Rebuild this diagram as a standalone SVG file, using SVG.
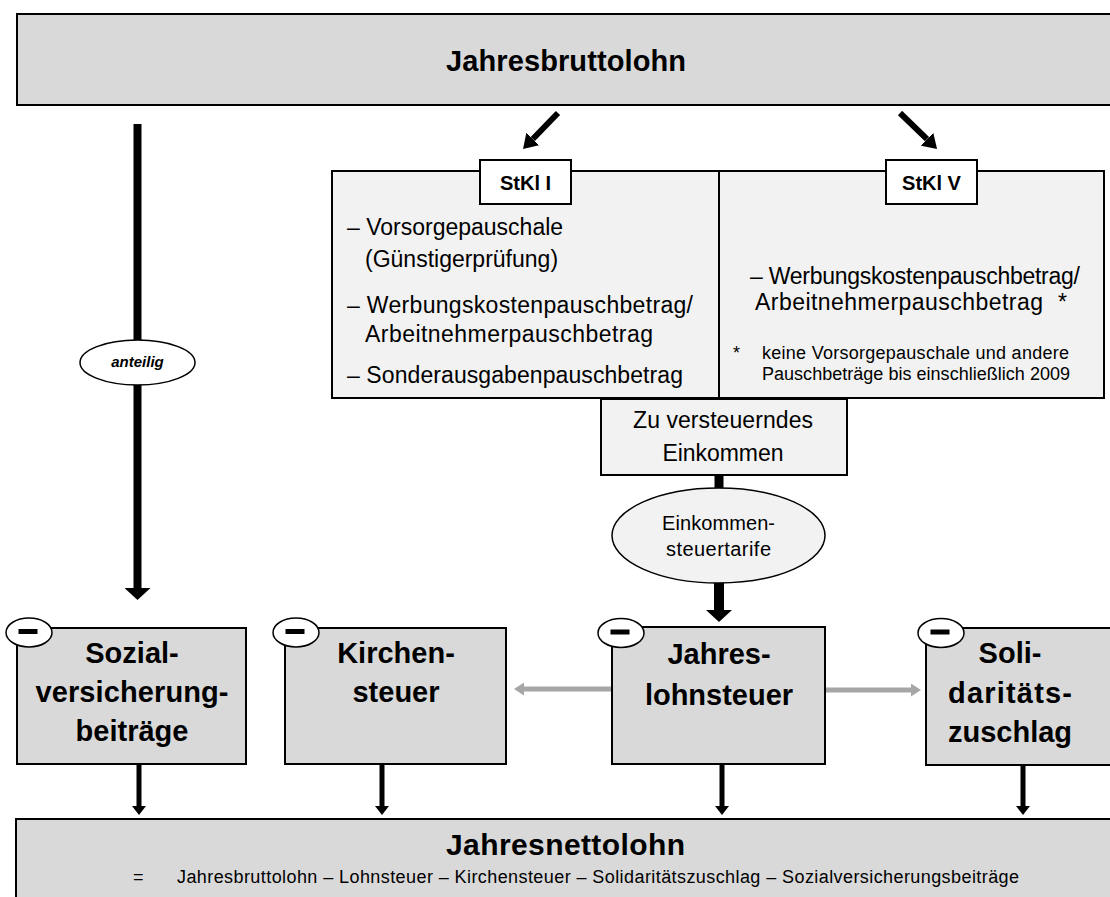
<svg xmlns="http://www.w3.org/2000/svg" width="1110" height="897" viewBox="0 0 1110 897">
<defs>
<style>
.t{font-family:"Liberation Sans",Arial,sans-serif;fill:#000}
.b{font-weight:bold}
.big{fill:#d9d9d9;stroke:#000;stroke-width:2}
.light{fill:#f2f2f2;stroke:#000;stroke-width:2}
.node{fill:#d9d9d9;stroke:#000;stroke-width:2}
.minus{fill:#fff;stroke:#000;stroke-width:1.5}
.blk{stroke:#000;fill:none}
.gry{stroke:#a6a6a6;fill:none;stroke-width:5}
</style>
<marker id="mBig" markerUnits="userSpaceOnUse" markerWidth="12" markerHeight="26" refX="0" refY="13" orient="auto"><path d="M0,0 L12,13 L0,26 z" fill="#000"/></marker>
<marker id="mDiag" markerUnits="userSpaceOnUse" markerWidth="14" markerHeight="18" refX="0" refY="9" orient="auto"><path d="M0,0 L14,9 L0,18 z" fill="#000"/></marker>
<marker id="mSmall" markerUnits="userSpaceOnUse" markerWidth="9" markerHeight="14" refX="0" refY="7" orient="auto"><path d="M0,0 L9,7 L0,14 z" fill="#000"/></marker>
<marker id="mGray" markerUnits="userSpaceOnUse" markerWidth="10" markerHeight="13" refX="0" refY="6.5" orient="auto"><path d="M0,0 L10,6.5 L0,13 z" fill="#a6a6a6"/></marker>
</defs>

<g id="connectors">
<line class="blk" x1="137.5" y1="124" x2="137.5" y2="588" stroke-width="8" marker-end="url(#mBig)"/>
<line class="blk" x1="558" y1="113" x2="532.8" y2="139" stroke-width="6" marker-end="url(#mDiag)"/>
<line class="blk" x1="900" y1="113" x2="927" y2="139.2" stroke-width="6" marker-end="url(#mDiag)"/>
<line class="blk" x1="719" y1="475" x2="719" y2="489" stroke-width="9"/>
<line class="blk" x1="719" y1="582" x2="719" y2="610" stroke-width="10" marker-end="url(#mBig)"/>
<line class="gry" x1="612" y1="689" x2="524" y2="689" marker-end="url(#mGray)"/>
<line class="gry" x1="825" y1="690" x2="911" y2="690" marker-end="url(#mGray)"/>
<line class="blk" x1="139" y1="764" x2="139" y2="806" stroke-width="5" marker-end="url(#mSmall)"/>
<line class="blk" x1="382" y1="764" x2="382" y2="806" stroke-width="5" marker-end="url(#mSmall)"/>
<line class="blk" x1="722" y1="764" x2="722" y2="806" stroke-width="5" marker-end="url(#mSmall)"/>
<line class="blk" x1="1023" y1="764" x2="1023" y2="806" stroke-width="5" marker-end="url(#mSmall)"/>
</g>

<g id="jahresbruttolohn">
<rect class="big" x="17" y="14" width="1100" height="91"/>
<text class="t b" x="566" y="71" font-size="29" text-anchor="middle" textLength="240">Jahresbruttolohn</text>
</g>

<g id="anteilig">
<ellipse cx="137.5" cy="362.5" rx="57.5" ry="22.5" fill="#fff" stroke="#000" stroke-width="1.5"/>
<text class="t b" x="137.5" y="367" font-size="15" font-style="italic" text-anchor="middle">anteilig</text>
</g>

<g id="freibetraege">
<rect class="light" x="332" y="171" width="772" height="227"/>
<line x1="719" y1="171" x2="719" y2="398" stroke="#000" stroke-width="2"/>
<text class="t" x="347" y="235" font-size="23">– Vorsorgepauschale</text>
<text class="t" x="365" y="267" font-size="23">(Günstigerprüfung)</text>
<text class="t" x="347" y="313" font-size="23" textLength="346">– Werbungskostenpauschbetrag/</text>
<text class="t" x="365" y="342" font-size="23" textLength="288">Arbeitnehmerpauschbetrag</text>
<text class="t" x="347" y="383" font-size="23" textLength="336">– Sonderausgabenpauschbetrag</text>
<text class="t" x="750" y="284" font-size="23" textLength="330">– Werbungskostenpauschbetrag/</text>
<text class="t" x="755" y="310" font-size="23" textLength="288">Arbeitnehmerpauschbetrag</text>
<text class="t" x="1058" y="310" font-size="23">*</text>
<text class="t" x="733" y="359" font-size="18">*</text>
<text class="t" x="762" y="359" font-size="18" textLength="307">keine Vorsorgepauschale und andere</text>
<text class="t" x="762" y="380" font-size="18" textLength="308">Pauschbeträge bis einschließlich 2009</text>
</g>

<g id="stkl1">
<rect x="480" y="160" width="91" height="44" fill="#fff" stroke="#000" stroke-width="2"/>
<text class="t b" x="525.5" y="190" font-size="20" text-anchor="middle">StKl I</text>
</g>

<g id="stkl5">
<rect x="886" y="160" width="91" height="44" fill="#fff" stroke="#000" stroke-width="2"/>
<text class="t b" x="931.5" y="190" font-size="20" text-anchor="middle">StKl V</text>
</g>

<g id="zve">
<rect class="light" x="601" y="399" width="246" height="76"/>
<text class="t" x="723" y="428" font-size="23" text-anchor="middle" textLength="180">Zu versteuerndes</text>
<text class="t" x="723" y="461" font-size="23" text-anchor="middle" textLength="121">Einkommen</text>
</g>

<g id="tarif">
<ellipse cx="718.5" cy="535.5" rx="106.5" ry="47.5" fill="#f2f2f2" stroke="#000" stroke-width="1.5"/>
<text class="t" x="718.5" y="530" font-size="20" text-anchor="middle" textLength="113">Einkommen-</text>
<text class="t" x="718.5" y="556" font-size="20" text-anchor="middle" textLength="105">steuertarife</text>
</g>

<g id="sozial">
<rect class="node" x="17" y="628" width="229" height="136"/>
<ellipse class="minus" cx="29" cy="632.5" rx="23" ry="14.5"/>
<rect x="18.5" y="629" width="19" height="5" fill="#000"/>
<text class="t b" x="132" y="663" font-size="29" text-anchor="middle">Sozial-</text>
<text class="t b" x="132" y="702" font-size="29" text-anchor="middle" textLength="193">versicherung-</text>
<text class="t b" x="132" y="741" font-size="29" text-anchor="middle">beiträge</text>
</g>

<g id="kirchen">
<rect class="node" x="285" y="628" width="221" height="136"/>
<ellipse class="minus" cx="296" cy="632.5" rx="23" ry="14.5"/>
<rect x="285.5" y="629" width="19" height="5" fill="#000"/>
<text class="t b" x="396" y="663" font-size="29" text-anchor="middle">Kirchen-</text>
<text class="t b" x="396" y="702" font-size="29" text-anchor="middle">steuer</text>
</g>

<g id="lohnsteuer">
<rect class="node" x="612" y="627" width="213" height="137"/>
<ellipse class="minus" cx="621" cy="633" rx="23" ry="14.5"/>
<rect x="610.5" y="629.5" width="19" height="5" fill="#000"/>
<text class="t b" x="719" y="664" font-size="29" text-anchor="middle">Jahres-</text>
<text class="t b" x="719" y="705" font-size="29" text-anchor="middle">lohnsteuer</text>
</g>

<g id="soli">
<rect class="node" x="926" y="628" width="190" height="137"/>
<ellipse class="minus" cx="941" cy="633" rx="23" ry="14.5"/>
<rect x="930.5" y="629.5" width="19" height="5" fill="#000"/>
<text class="t b" x="1010" y="663" font-size="29" text-anchor="middle">Soli-</text>
<text class="t b" x="1010" y="703" font-size="29" text-anchor="middle" textLength="124">daritäts-</text>
<text class="t b" x="1010" y="742" font-size="29" text-anchor="middle">zuschlag</text>
</g>

<g id="jahresnettolohn">
<rect class="big" x="16" y="819" width="1100" height="90"/>
<text class="t b" x="565.5" y="855" font-size="30" text-anchor="middle" textLength="239">Jahresnettolohn</text>
<text class="t" x="133" y="883" font-size="18">=</text>
<text class="t" x="177" y="883" font-size="18" textLength="842">Jahresbruttolohn – Lohnsteuer – Kirchensteuer – Solidaritätszuschlag – Sozialversicherungsbeiträge</text>
</g>
</svg>
